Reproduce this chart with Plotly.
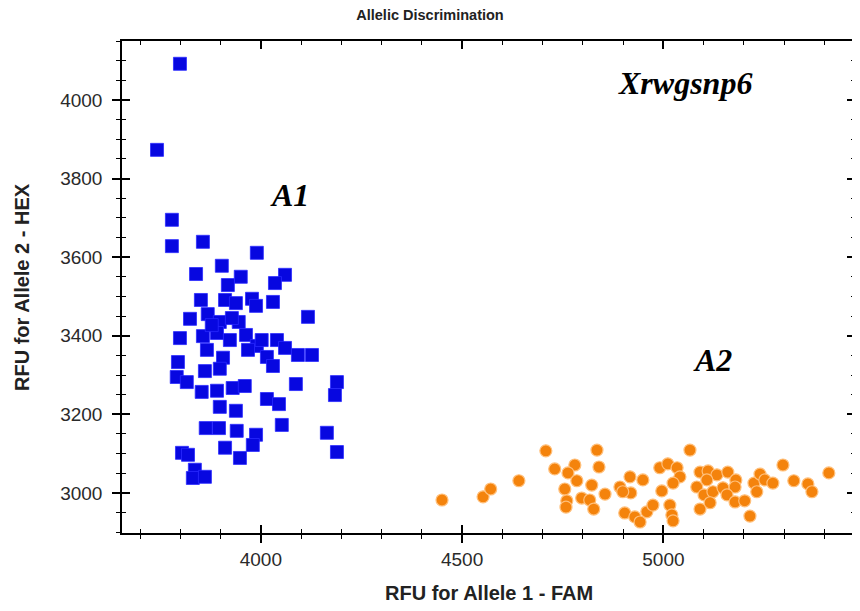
import plotly.graph_objects as go

# ---- data ----
a1_fam = [3799, 3742, 3779, 3779, 3856, 3990, 3903, 3839, 3950, 3918, 4060, 4035,
          3851, 3911, 3938, 3978, 3988, 4030, 4117, 3824, 3868, 3898, 3945, 3799,
          3856, 3891, 3923, 3963, 3990, 4040, 4060, 4092, 4127, 4015, 4030, 3866,
          3906, 3794, 3861, 3898, 3791, 3816, 3853, 3891, 3930, 3960, 4087, 4189,
          4184, 4015, 4045, 3898, 3938, 4052, 3863, 3896, 3940, 3988, 4164, 3911,
          3948, 3980, 4189, 3804, 3819, 3836, 3831, 3861, 3878, 3928, 4002, 3968]
a1_hex = [4092, 3873, 3695, 3628, 3639, 3611, 3578, 3557, 3550, 3529, 3555, 3534,
          3491, 3491, 3483, 3494, 3476, 3486, 3448, 3443, 3455, 3435, 3435, 3394,
          3399, 3407, 3389, 3402, 3374, 3389, 3369, 3351, 3351, 3346, 3323, 3364,
          3344, 3333, 3310, 3316, 3295, 3282, 3257, 3260, 3267, 3272, 3277, 3282,
          3249, 3239, 3226, 3219, 3209, 3173, 3165, 3165, 3158, 3148, 3153, 3115,
          3089, 3122, 3104, 3102, 3097, 3059, 3038, 3041, 3427, 3445, 3389, 3364]

a2_fam = [4450, 4552, 4571, 4641, 4708, 4835, 4730, 4780, 4763, 4840, 4785, 4755,
          4760, 4758, 4822, 4797, 4817, 4827, 4855, 4892, 4917, 4949, 4919, 4904,
          4929, 4942, 4959, 4974, 4991, 5011, 5034, 5041, 5024, 4996, 5016, 5021,
          5024, 5066, 5091, 5111, 5133, 5108, 5083, 5101, 5123, 5091, 5116, 5148,
          5160, 5180, 5178, 5158, 5178, 5202, 5215, 5225, 5240, 5252, 5232, 5272,
          5297, 5324, 5359, 5369, 5411, 4899]
a2_hex = [2982, 2990, 3010, 3031, 3107, 3109, 3061, 3071, 3051, 3066, 3031, 3010,
          2980, 2964, 3020, 2987, 2982, 2959, 2997, 3015, 3041, 3033, 3000, 2949,
          2939, 2926, 2952, 2969, 3064, 3074, 3064, 3041, 3025, 3005, 2969, 2944,
          2929, 3109, 3053, 3056, 3046, 3033, 3015, 2995, 3003, 2959, 2975, 3013,
          3053, 3033, 3015, 2995, 2977, 2980, 2941, 3025, 3048, 3033, 3003, 3025,
          3071, 3031, 3023, 3003, 3051, 3003]

x_range = [3655, 5476]
y_range = [2898, 4150]
x_ticks = [4000, 4500, 5000]
y_ticks = [3000, 3200, 3400, 3600, 3800, 4000]

title_text = "Allelic Discrimination"
x_title = "RFU for Allele 1 - FAM"
y_title = "RFU for Allele 2 - HEX"

fig = go.Figure()
fig.add_trace(go.Scatter(
    x=a1_fam, y=a1_hex, mode="markers", name="A1",
    marker=dict(symbol="square", size=13, color="#0707e0",
                line=dict(color="#2a2aff", width=0.8))))
fig.add_trace(go.Scatter(
    x=a2_fam, y=a2_hex, mode="markers", name="A2",
    marker=dict(symbol="circle", size=12, color="#f4830c",
                line=dict(color="#ffbf7a", width=1.2))))
# dummy trace for overlay axes (inside ticks)
fig.add_trace(go.Scatter(x=[None], y=[None], xaxis="x2", yaxis="y2",
                         showlegend=False, hoverinfo="skip"))

W, H = 852, 603  # page body has an 8px default margin
tickfont = dict(family="Liberation Sans, Arial, sans-serif", size=19, color="#2a2a2a")

fig.update_layout(
    width=W, height=H, autosize=False,
    margin=dict(l=114, r=5, t=33, b=78, autoexpand=False),
    paper_bgcolor="white", plot_bgcolor="white",
    showlegend=False,
    title=dict(text=title_text, x=0.5 - 4 / W, xref="container", xanchor="center",
               y=1 - 7 / H, yanchor="middle",
               font=dict(family="Liberation Sans, Arial, sans-serif", size=14.5,
                         color="#222222", weight="bold")),
    xaxis=dict(range=x_range, tickvals=x_ticks, ticks="outside", ticklen=8,
               tickwidth=1.5, tickcolor="black", showline=True, linecolor="black",
               linewidth=1.5, mirror=True, showgrid=False, zeroline=False,
               tickfont=tickfont, automargin=False,
               minor=dict(dtick=100, tick0=4000, ticks="outside", ticklen=4,
                          tickwidth=1.2, tickcolor="black", showgrid=False)),
    yaxis=dict(range=y_range, tickvals=y_ticks, ticks="outside", ticklen=8,
               tickwidth=1.5, tickcolor="black", showline=True, linecolor="black",
               linewidth=1.5, mirror="ticks", showgrid=False, zeroline=False,
               tickfont=tickfont, ticklabelstandoff=6, automargin=False,
               minor=dict(dtick=50, tick0=3000, ticks="outside", ticklen=4,
                          tickwidth=1.2, tickcolor="black", showgrid=False)),
    xaxis2=dict(range=x_range, overlaying="x", anchor="y2", tickvals=x_ticks,
                ticks="inside", ticklen=8, tickwidth=1.5, tickcolor="black",
                showticklabels=False, showline=False, mirror="ticks",
                showgrid=False, zeroline=False, automargin=False,
                minor=dict(dtick=100, tick0=4000, ticks="inside", ticklen=4,
                           tickwidth=1.2, tickcolor="black", showgrid=False)),
    yaxis2=dict(range=y_range, overlaying="y", anchor="x2", tickvals=y_ticks,
                ticks="inside", ticklen=8, tickwidth=1.5, tickcolor="black",
                showticklabels=False, showline=False, mirror="ticks",
                showgrid=False, zeroline=False, automargin=False,
                minor=dict(dtick=50, tick0=3000, ticks="inside", ticklen=4,
                           tickwidth=1.2, tickcolor="black", showgrid=False)),
)

labfont = dict(family="Liberation Sans, Arial, sans-serif", size=20,
               color="#222222", weight="bold")
fig.add_annotation(text=x_title, xref="paper", yref="paper", x=0.5, y=0,
                   xanchor="center", yanchor="middle", yshift=-60,
                   showarrow=False, font=labfont)
fig.add_annotation(text=y_title, xref="paper", yref="paper", x=0, y=0.5,
                   xanchor="center", yanchor="middle", xshift=-100,
                   textangle=-90, showarrow=False, font=labfont)

serif = dict(family="Liberation Serif, Times New Roman, serif", size=32,
             color="black", weight="bold", style="italic")
fig.add_annotation(text="Xrwgsnp6", x=5054, y=4043, showarrow=False, font=serif)
fig.add_annotation(text="A1", x=4071, y=3758, showarrow=False, font=serif)
fig.add_annotation(text="A2", x=5123, y=3338, showarrow=False, font=serif)

fig.write_html("out.html")
